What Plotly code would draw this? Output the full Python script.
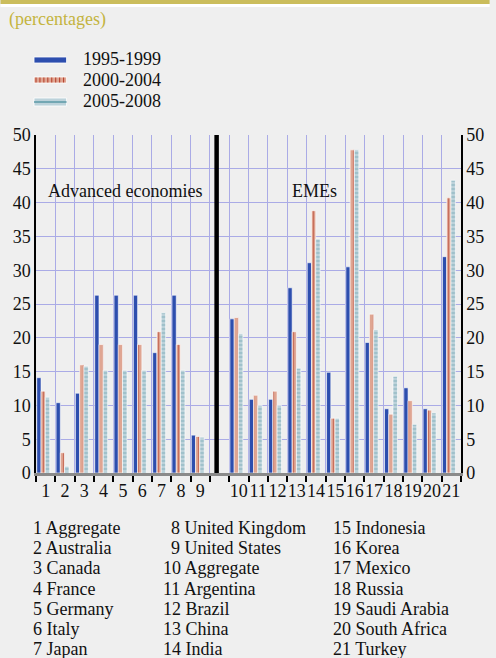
import plotly.graph_objects as go

# ---- data ----
categories = [str(i) for i in range(1, 22)]
names = ["Aggregate", "Australia", "Canada", "France", "Germany", "Italy", "Japan",
         "United Kingdom", "United States", "Aggregate", "Argentina", "Brazil", "China",
         "India", "Indonesia", "Korea", "Mexico", "Russia", "Saudi Arabia",
         "South Africa", "Turkey"]
s1995_1999 = [14.1, 10.4, 11.8, 26.3, 26.3, 26.3, 17.8, 26.3, 5.6,
              22.8, 10.9, 10.9, 27.4, 31.1, 14.9, 30.5, 19.3, 9.5, 12.6, 9.5, 32.0]
s2000_2004 = [12.1, 3.0, 16.0, 19.0, 19.0, 19.0, 20.9, 19.0, 5.4,
              23.0, 11.5, 12.1, 20.9, 38.8, 8.1, 47.8, 23.5, 8.7, 10.7, 9.3, 40.7]
s2005_2008 = [11.2, 1.0, 15.8, 15.2, 15.2, 15.2, 23.7, 15.2, 5.3,
              20.6, 10.0, 10.0, 15.5, 34.6, 8.1, 47.8, 21.2, 14.3, 7.2, 8.9, 43.3]
series_names = ["1995-1999", "2000-2004", "2005-2008"]
yticks = list(range(0, 55, 5))

# slot positions: advanced 1..9, separator at 10, EMEs at 11..22
slots = [i + 1 if i < 9 else i + 2 for i in range(21)]

W, H = 496, 658
L, R, T, B = 36, 467, 135, 473
def px(x):
    return (x - L) / (R - L)
def py(y):
    return (B - y) / (B - T)

FONT = "Liberation Serif, Times New Roman, serif"
FS = 18
BLUE = "#2d4eae"
SALMON = "#dfa592"
DARKRED = "#b23a26"
TEAL_BG = "#bcd2da"
TEAL_FG = "#5b98a6"
GRID = "#aaabe6"

fig = go.Figure()
fig.add_trace(go.Bar(x=slots, y=s1995_1999, name=series_names[0], width=0.22, offset=-0.46,
                     marker=dict(color=BLUE, line=dict(color="white", width=0.6)),
                     showlegend=False))
fig.add_trace(go.Bar(x=slots, y=s2000_2004, name=series_names[1], width=0.22, offset=-0.24,
                     marker=dict(color=SALMON, line=dict(color="white", width=0.6),
                                 pattern=dict(shape="|", fgcolor=DARKRED, bgcolor=SALMON,
                                              size=5, solidity=0.25)),
                     showlegend=False))
fig.add_trace(go.Bar(x=slots, y=s2005_2008, name=series_names[2], width=0.23, offset=-0.02,
                     marker=dict(color=TEAL_BG, line=dict(color="white", width=0.6),
                                 pattern=dict(shape="-", fgcolor=TEAL_FG, bgcolor=TEAL_BG,
                                              size=4, solidity=0.3)),
                     showlegend=False))
# invisible trace for right axis
fig.add_trace(go.Scatter(x=[1], y=[0], yaxis="y2", mode="markers",
                         marker=dict(opacity=0), showlegend=False, hoverinfo="skip"))

fig.update_layout(
    width=W, height=H,
    margin=dict(l=L, r=W - R, t=T, b=H - B),
    paper_bgcolor="#efefef", plot_bgcolor="#efefef",
    barmode="overlay",
    font=dict(family=FONT, size=FS, color="#111"),
    xaxis=dict(range=[0.5, 22.5], tickmode="array", tickvals=slots, ticktext=categories,
               showgrid=False, zeroline=False, showline=True, linecolor="#8a8a8a", linewidth=2.5,
               ticks="", tickangle=0, tickfont=dict(size=18, family=FONT),
               minor=dict(tickmode="linear", tick0=0.5, dtick=1, showgrid=True, gridcolor=GRID,
                          gridwidth=1, ticks="outside", ticklen=6, tickwidth=2, tickcolor="black")),
    yaxis=dict(range=[0, 50], tickvals=yticks, showgrid=True, gridcolor=GRID, gridwidth=1,
               zeroline=False, showline=True, linecolor="black", linewidth=1.5,
               ticks="", tickfont=dict(size=FS, family=FONT)),
    yaxis2=dict(range=[0, 50], tickvals=yticks, overlaying="y", side="right", showgrid=False,
                zeroline=False, showline=True, linecolor="black", linewidth=1.5,
                ticks="", tickfont=dict(size=FS, family=FONT)),
)

shapes = []
# separator
shapes.append(dict(type="line", xref="x", yref="y", x0=9.85, x1=9.85, y0=0, y1=50,
                   line=dict(color="black", width=4.5)))
# top gold band
shapes.append(dict(type="rect", xref="paper", yref="paper", x0=px(0), x1=px(W),
                   y0=py(4), y1=py(0), fillcolor="#cbbd5c", line=dict(width=0), layer="above"))
shapes.append(dict(type="rect", xref="paper", yref="paper", x0=px(0), x1=px(W),
                   y0=py(7), y1=py(4), fillcolor="white", line=dict(width=0), layer="above"))
# legend symbols
shapes.append(dict(type="rect", xref="paper", yref="paper", x0=px(34), x1=px(67),
                   y0=py(63), y1=py(57), fillcolor=BLUE, line=dict(color="white", width=0.8)))
shapes.append(dict(type="rect", xref="paper", yref="paper", x0=px(34), x1=px(67),
                   y0=py(83), y1=py(77), fillcolor=SALMON, line=dict(color="white", width=0.8)))
for xx in range(36, 67, 4):
    shapes.append(dict(type="line", xref="paper", yref="paper", x0=px(xx), x1=px(xx),
                       y0=py(82.5), y1=py(77.5), line=dict(color=DARKRED, width=1)))
shapes.append(dict(type="rect", xref="paper", yref="paper", x0=px(34), x1=px(67),
                   y0=py(106), y1=py(98), fillcolor=TEAL_BG, line=dict(color="white", width=0.8)))
shapes.append(dict(type="line", xref="paper", yref="paper", x0=px(34), x1=px(67),
                   y0=py(102), y1=py(102), line=dict(color=TEAL_FG, width=1.5)))
fig.update_layout(shapes=shapes)

ann = []
ann.append(dict(text="(percentages)", x=px(7), y=py(20), xref="paper", yref="paper",
                xanchor="left", yanchor="middle", showarrow=False,
                font=dict(size=FS, color="#c4b440", family=FONT)))
for i, nm in enumerate(series_names):
    ann.append(dict(text=nm, x=px(82), y=py(59 + 21 * i), xref="paper", yref="paper",
                    xanchor="left", yanchor="middle", showarrow=False,
                    font=dict(size=FS, family=FONT, color="#111")))
ann.append(dict(text="Advanced economies", x=px(46), y=py(191), xref="paper", yref="paper",
                xanchor="left", yanchor="middle", showarrow=False,
                font=dict(size=FS, family=FONT, color="#111")))
ann.append(dict(text="EMEs", x=px(294), y=py(191), xref="paper", yref="paper",
                xanchor="left", yanchor="middle", showarrow=False,
                font=dict(size=FS, family=FONT, color="#111")))
# bottom key
for k, nm in enumerate(names):
    num = k + 1
    col, row = divmod(k, 7)
    if col == 0:
        xx = 31
    elif col == 1:
        xx = 171 if num < 10 else 163
    else:
        xx = 335
    yy = 528 + row * 20.2
    ann.append(dict(text=f"{num} {nm}", x=px(xx), y=py(yy), xref="paper", yref="paper",
                    xanchor="left", yanchor="middle", showarrow=False,
                    font=dict(size=FS, family=FONT, color="#111")))
fig.update_layout(annotations=ann)

fig.write_html("out.html", config={"displayModeBar": False},
               post_script="document.body.style.margin='0';document.body.style.overflow='hidden';")
